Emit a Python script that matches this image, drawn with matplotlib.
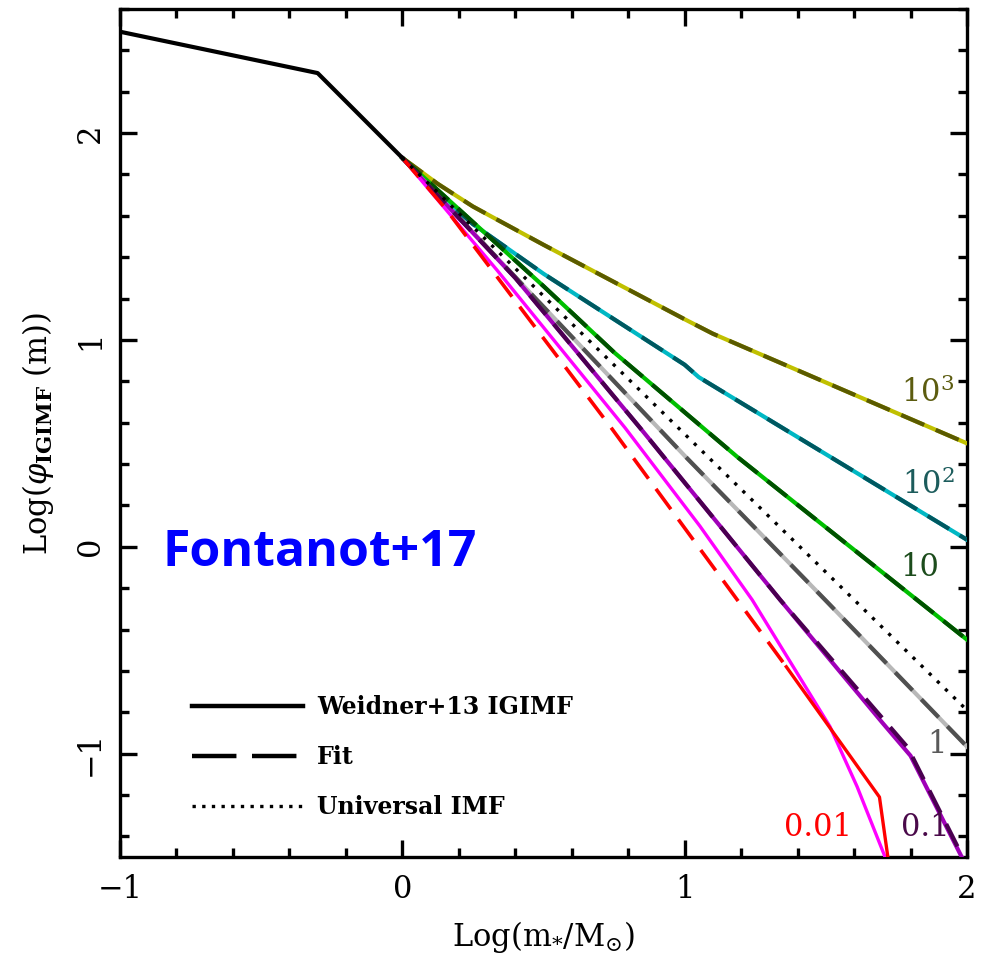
import matplotlib
matplotlib.use("Agg")
import matplotlib.pyplot as plt
from matplotlib.ticker import MultipleLocator
from matplotlib.lines import Line2D

plt.rcParams['mathtext.fontset'] = 'dejavuserif'
SERIF = 'DejaVu Serif'

# low-mass part shared by every IMF
low_x = [-1.0, -0.3, 0.0]
low_y = [2.49, 2.29, 1.88]

# universal IMF above 1 Msun
univ_x = [0.0, 2.0]
univ_y = [1.88, -0.79]

# Weidner+13 IGIMF per SFR (log m, log phi)
igimf_1e3_x = [0.0, 0.125, 0.25, 0.5, 0.75, 1.0, 1.1, 2.0]
igimf_1e3_y = [1.88, 1.755, 1.645, 1.46, 1.28, 1.10, 1.03, 0.50]
igimf_1e2_x = [0.0, 0.125, 0.25, 0.5, 0.75, 1.0, 1.05, 2.0]
igimf_1e2_y = [1.88, 1.71, 1.56, 1.32, 1.10, 0.88, 0.82, 0.034]
igimf_1e1_x = [0.0, 0.25, 0.5, 0.75, 1.065, 1.186, 2.0]
igimf_1e1_y = [1.88, 1.57, 1.26, 0.94, 0.575, 0.435, -0.449]
igimf_1e0_x = [0.0, 0.5, 1.0, 1.5, 2.0]
igimf_1e0_y = [1.88, 1.16, 0.44, -0.26, -0.966]
igimf_1em1_x = [0.0, 0.4, 0.842, 1.338, 1.70, 1.80, 2.0]
igimf_1em1_y = [1.88, 1.30, 0.575, -0.256, -0.85, -1.01, -1.55]
igimf_1em2_x = [0.0, 0.335, 0.789, 1.054, 1.239, 1.515, 1.611, 1.71, 1.75]
igimf_1em2_y = [1.88, 1.338, 0.575, 0.10, -0.256, -0.87, -1.16, -1.5, -1.7]

# fits to the IGIMF
fit_1em1_x = [0.0, 0.4, 0.842, 1.338, 1.79, 2.0]
fit_1em1_y = [1.88, 1.30, 0.575, -0.256, -0.97, -1.54]
fit_1em2_x = [0.0, 0.15, 0.74, 1.36]
fit_1em2_y = [1.88, 1.64, 0.575, -0.58]
fit_1em2_tail_x = [1.36, 1.69, 1.73]
fit_1em2_tail_y = [-0.58, -1.21, -1.6]

sfr_labels = ['10$^3$', '10$^2$', '10', '1', '0.1', '0.01']
label_x = [1.862, 1.862, 1.834, 1.894, 1.851, 1.473]
label_y = [0.744, 0.30, -0.10, -0.957, -1.357, -1.357]
label_colors = ['#5c5c10', '#1c5c5c', '#1c4c1c', '#5a5a5a', '#4a0a4a', '#ff0000']

fig = plt.figure(figsize=(9.82, 9.63), dpi=100)
ax = fig.add_axes([0.1222, 0.110, 0.8625, 0.8807])

lw = 3.0
dash = (0, (6, 3))

ax.plot(low_x, low_y, color='black', lw=lw, zorder=5)

# bright solid IGIMF with darker dashed fit on top
pairs = [
    (igimf_1e3_x, igimf_1e3_y, '#c0c000', '#5a5a00'),
    (igimf_1e2_x, igimf_1e2_y, '#00b8c4', '#005860'),
    (igimf_1e1_x, igimf_1e1_y, '#00c000', '#005000'),
    (igimf_1e0_x, igimf_1e0_y, '#b8b8b8', '#505050'),
]
for x, y, c_solid, c_fit in pairs:
    ax.plot(x, y, color=c_solid, lw=lw, zorder=3)
    ax.plot(x, y, color=c_fit, lw=lw, ls=dash, zorder=4)

ax.plot(igimf_1em1_x, igimf_1em1_y, color='#a000b8', lw=lw, zorder=3)
ax.plot(fit_1em1_x, fit_1em1_y, color='#4a0050', lw=lw, ls=dash, zorder=4)

ax.plot(igimf_1em2_x, igimf_1em2_y, color='#ff00ff', lw=2.4, zorder=3)
ax.plot(fit_1em2_x, fit_1em2_y, color='#ff0000', lw=2.6, ls=(0, (7, 3.5)), zorder=4)
ax.plot(fit_1em2_tail_x, fit_1em2_tail_y, color='#ff0000', lw=2.4, zorder=4)

ax.plot(univ_x, univ_y, color='black', lw=2.4, ls=(0, (1, 2.4)), zorder=4)

for txt, x, y, c in zip(sfr_labels, label_x, label_y, label_colors):
    ax.text(x, y, txt, color=c, fontsize=22, family=SERIF,
            ha='center', va='center', zorder=6)

ax.text(0.05, 0.359, 'Fontanot+17', transform=ax.transAxes, color='#0000ff',
        fontsize=36, fontweight='bold', family='Open Sans', va='center')

handles = [
    Line2D([], [], color='black', lw=3.2),
    Line2D([], [], color='black', lw=3.2, ls=(0, (10, 3.5))),
    Line2D([], [], color='black', lw=2.4, ls=(0, (1, 1.9))),
]
ax.legend(handles, ['Weidner+13 IGIMF', 'Fit', 'Universal IMF'],
          loc='lower left', bbox_to_anchor=(0.06, 0.02), frameon=False,
          prop={'family': SERIF, 'size': 17, 'weight': 'bold'},
          handlelength=4.7, handletextpad=0.6, labelspacing=1.1)

ax.set_xlim(-1, 2)
ax.set_ylim(-1.5, 2.6)
ax.xaxis.set_major_locator(MultipleLocator(1))
ax.xaxis.set_minor_locator(MultipleLocator(0.2))
ax.yaxis.set_major_locator(MultipleLocator(1))
ax.yaxis.set_minor_locator(MultipleLocator(0.2))
ax.tick_params(which='both', direction='in', top=True, right=True, width=2.4)
ax.tick_params(which='major', length=12)
ax.tick_params(which='minor', length=6.5)
ax.tick_params(axis='x', pad=12)
ax.tick_params(axis='y', pad=10)
for sp in ax.spines.values():
    sp.set_linewidth(2.4)

ax.set_xticks([-1, 0, 1, 2])
ax.set_xticklabels(['\u22121', '0', '1', '2'])
ax.set_yticks([-1, 0, 1, 2])
ax.set_yticklabels(['\u22121', '0', '1', '2'], rotation=90, va='center')
for lab in ax.get_xticklabels() + ax.get_yticklabels():
    lab.set_family(SERIF)
    lab.set_fontsize(22)

ax.set_xlabel(r'Log(m$_{*}$/M$_{\odot}$)', family=SERIF, fontsize=22, labelpad=10)
ax.set_ylabel(r'Log($\varphi_{\mathbf{IGIMF}}$ (m))', family=SERIF, fontsize=22,
              labelpad=14)

fig.savefig('out.png', dpi=100)
